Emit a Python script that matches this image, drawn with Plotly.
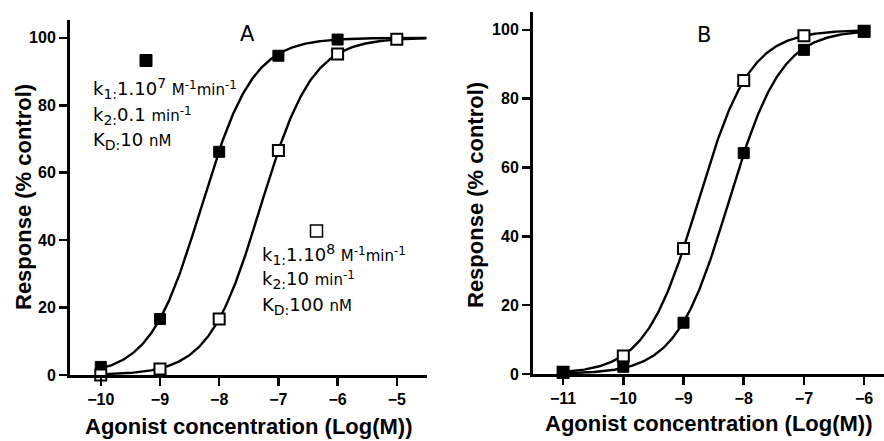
import numpy as np
import plotly.graph_objects as go

W, H = 884, 441

# ---------------- data ----------------
logM_A = [-10, -9, -8, -7, -6]
resp_A_filled = [2.4, 16.6, 66.2, 94.7, 99.5]
logM_A_open = [-10, -9, -8, -7, -6, -5]
resp_A_open = [0.0, 1.8, 16.6, 66.6, 95.2, 99.6]

logM_B = [-11, -10, -9, -8, -7, -6]
resp_B_filled = [0.3, 2.1, 14.9, 64.2, 94.2, 99.5]
resp_B_open = [0.5, 5.2, 36.5, 85.3, 98.3, 99.6]

# fitted sigmoid parameters (Hill slope 1, bottom 0, top 100)
logEC50_A = {"filled": -8.30, "open": -7.30}
logEC50_B = {"filled": -8.25, "open": -8.76}
curve_span_A = (-10.0, -4.5)
curve_span_B = (-11.0, -6.0)

xticks_A = [-10, -9, -8, -7, -6, -5]
xticks_B = [-11, -10, -9, -8, -7, -6]
yticks = [0, 20, 40, 60, 80, 100]

x_title = "Agonist concentration (Log(M))"
y_title = "Response (% control)"


def hill(x, logec50):
    x = np.asarray(x)
    return 100.0 / (1.0 + 10 ** (logec50 - x))


def px(x):
    return x / W


def py(y):
    return 1 - y / H


BOLD = "Liberation Sans"
TXT = "DejaVu Sans"

fig = go.Figure()

line_style = dict(color="black", width=2.4)
mk_filled = dict(symbol="square", size=11, color="black", line=dict(color="black", width=1))
mk_open = dict(symbol="square", size=11, color="white", line=dict(color="black", width=2))

# Panel A curves
for key in ["filled", "open"]:
    xs = np.linspace(curve_span_A[0], curve_span_A[1], 300)
    fig.add_trace(go.Scatter(x=xs, y=hill(xs, logEC50_A[key]), mode="lines",
                             line=line_style, xaxis="x", yaxis="y",
                             showlegend=False, hoverinfo="skip", cliponaxis=False))
fig.add_trace(go.Scatter(x=logM_A, y=resp_A_filled, mode="markers", marker=mk_filled,
                         xaxis="x", yaxis="y", showlegend=False, cliponaxis=False))
fig.add_trace(go.Scatter(x=logM_A_open, y=resp_A_open, mode="markers", marker=mk_open,
                         xaxis="x", yaxis="y", showlegend=False, cliponaxis=False))

# Panel B curves
for key in ["filled", "open"]:
    xs = np.linspace(curve_span_B[0], curve_span_B[1], 300)
    fig.add_trace(go.Scatter(x=xs, y=hill(xs, logEC50_B[key]), mode="lines",
                             line=line_style, xaxis="x2", yaxis="y2",
                             showlegend=False, hoverinfo="skip", cliponaxis=False))
fig.add_trace(go.Scatter(x=logM_B, y=resp_B_open, mode="markers", marker=mk_open,
                         xaxis="x2", yaxis="y2", showlegend=False, cliponaxis=False))
fig.add_trace(go.Scatter(x=logM_B, y=resp_B_filled, mode="markers", marker=mk_filled,
                         xaxis="x2", yaxis="y2", showlegend=False, cliponaxis=False))

axis_common = dict(showline=True, linecolor="black", linewidth=3, ticks="outside",
                   ticklen=8, tickwidth=2.5, tickcolor="black", showgrid=False,
                   zeroline=False, tickfont=dict(family=BOLD, size=16, color="black", weight="bold"),
                   fixedrange=True, automargin=False)

fig.update_layout(
    width=W, height=H, margin=dict(l=0, r=0, t=0, b=0, pad=0),
    paper_bgcolor="white", plot_bgcolor="white",
    xaxis=dict(domain=[px(70), px(427)], range=[-10.52, -4.49], tickvals=xticks_A,
               anchor="y", **axis_common),
    yaxis=dict(domain=[py(375), py(20)], range=[0, 105.3], tickvals=yticks,
               anchor="x", **axis_common),
    xaxis2=dict(domain=[px(533), 1.0], range=[-11.5, -5.67], tickvals=xticks_B,
                anchor="y2", **axis_common),
    yaxis2=dict(domain=[py(374), py(12)], range=[0, 105.2], tickvals=yticks,
                anchor="x2", **axis_common),
)

anns = []


def add_text(x, y, text, size, family=TXT, xanchor="left", yanchor="middle", bold=False, angle=0):
    anns.append(dict(x=px(x), y=py(y), xref="paper", yref="paper", text=text, showarrow=False,
                     xanchor=xanchor, yanchor=yanchor, borderpad=0, textangle=angle,
                     font=dict(family=family, size=size, color="black",
                               weight="bold" if bold else "normal")))


def sub(t):
    return "<span style='font-size:14px;baseline-shift:-4px'>" + t + "</span>"


def sup(t, fs=14, shift=7):
    return "<span style='font-size:%dpx;baseline-shift:%dpx'>%s</span>" % (fs, shift, t)


def small(t):
    return "<span style='font-size:15px'>" + t + "</span>"


# panel labels
add_text(247, 34, "A", 21, xanchor="center")
add_text(704, 35, "B", 21, xanchor="center")

# annotation block 1 (filled)
add_text(92, 89, "k" + sub("1:") + "1.10" + sup("7") + " " + small("M") + sup("-1", 12, 6)
         + small("min") + sup("-1", 12, 6), 18)
add_text(92, 116, "k" + sub("2:") + "0.1 " + small("min") + sup("-1", 12, 6), 18)
add_text(92, 141, "K" + sub("D:") + "10 " + small("nM"), 18)

# annotation block 2 (open)
add_text(261, 254, "k" + sub("1:") + "1.10" + sup("8") + " " + small("M") + sup("-1", 12, 6)
         + small("min") + sup("-1", 12, 6), 18)
add_text(261, 280, "k" + sub("2:") + "10 " + small("min") + sup("-1", 12, 6), 18)
add_text(261, 306, "K" + sub("D:") + "100 " + small("nM"), 18)

# axis titles
add_text(249, 426, x_title, 22, family=BOLD, xanchor="center", bold=True)
add_text(709, 423, x_title, 22, family=BOLD, xanchor="center", bold=True)
add_text(23, 197, y_title, 22, family=BOLD, xanchor="center", bold=True, angle=-90)
add_text(475, 195, y_title, 22, family=BOLD, xanchor="center", bold=True, angle=-90)

fig.update_layout(annotations=anns)

# legend keys (layout shapes in paper coordinates)
fig.add_shape(type="rect", xref="paper", yref="paper",
              x0=px(140), x1=px(152), y0=py(66.5), y1=py(54.5),
              fillcolor="black", line=dict(color="black", width=1))
fig.add_shape(type="rect", xref="paper", yref="paper",
              x0=px(310.5), x1=px(322.5), y0=py(237), y1=py(225),
              fillcolor="white", line=dict(color="black", width=1.5))

fig.write_html(
    "out.html",
    config={"displayModeBar": False, "staticPlot": True},
    post_script="document.body.style.margin='0';document.body.style.overflow='hidden';",
)
